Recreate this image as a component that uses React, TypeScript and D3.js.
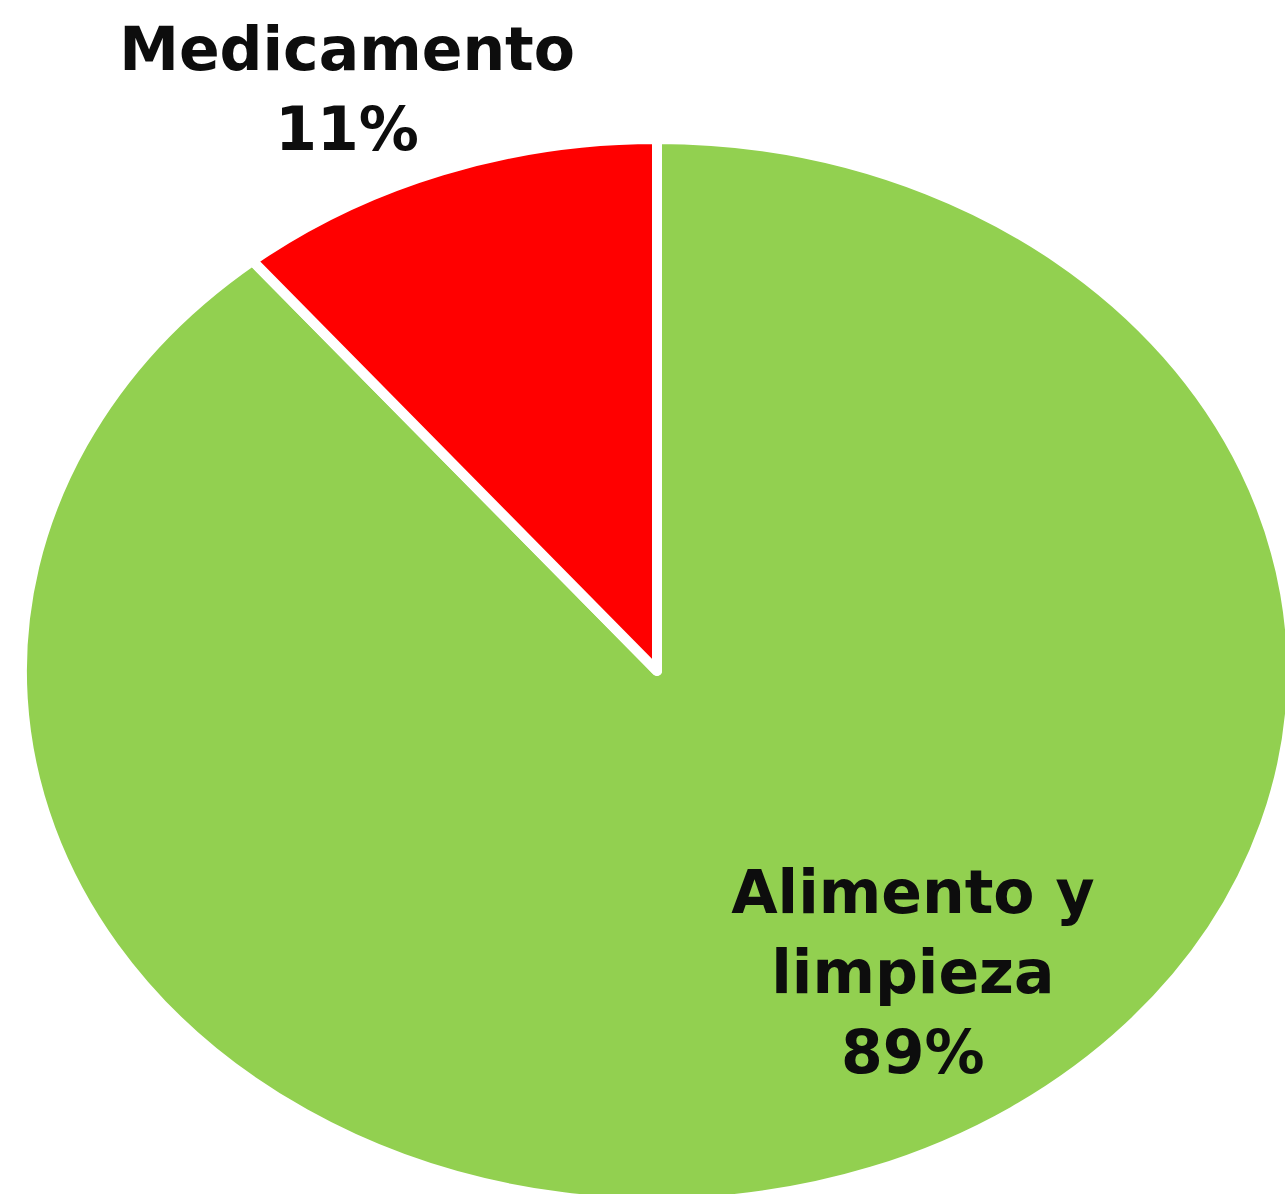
import React from "react";
import * as d3 from "d3";

// data
const categories = ["Alimento y limpieza", "Medicamento"];
const values = [89, 11];
const colors = ["#92D050", "#FF0000"];
// label text lines (the name is broken as in the original)
const labelLines = [["Alimento y", "limpieza"], ["Medicamento"]];

const width = 1285;
const height = 1194;
const cx = 657;
const cy = 671;
const rx = 635;
const ry = 532;

// where each label's first baseline sits, as a fraction of the radii
const labelAnchors = [
  [0.403, 0.455],
  [-0.488, -1.13],
];

const App = () => {
  const pie = d3.pie<number>().sort(null).value((d) => d);
  const arcs = pie(values);
  const arc = d3.arc<d3.PieArcDatum<number>>().innerRadius(0).outerRadius(1);
  const total = d3.sum(values);

  return (
    <svg
      width={width}
      height={height}
      style={{ position: "absolute", left: 0, top: 0, background: "#fff" }}
    >
      <g transform={`translate(${cx},${cy}) scale(${rx},${ry})`}>
        {arcs.map((a, i) => (
          <path
            key={categories[i]}
            d={arc(a) || ""}
            fill={colors[i]}
            stroke="#fff"
            strokeWidth={10}
            strokeLinejoin="round"
            vectorEffect="non-scaling-stroke"
          />
        ))}
      </g>
      {arcs.map((a, i) => {
        const x = cx + labelAnchors[i][0] * rx;
        const y = cy + labelAnchors[i][1] * ry;
        const lines = [...labelLines[i], `${Math.round((values[i] / total) * 100)}%`];
        return (
          <text
            key={"l" + i}
            x={x}
            y={y}
            textAnchor="middle"
            fontFamily="'DejaVu Sans', Verdana, sans-serif"
            fontWeight="bold"
            fontSize={60}
            fill="#0D0D0D"
          >
            {lines.map((t, j) => (
              <tspan key={j} x={x} dy={j === 0 ? 0 : 80}>
                {t}
              </tspan>
            ))}
          </text>
        );
      })}
    </svg>
  );
};

export default App;
